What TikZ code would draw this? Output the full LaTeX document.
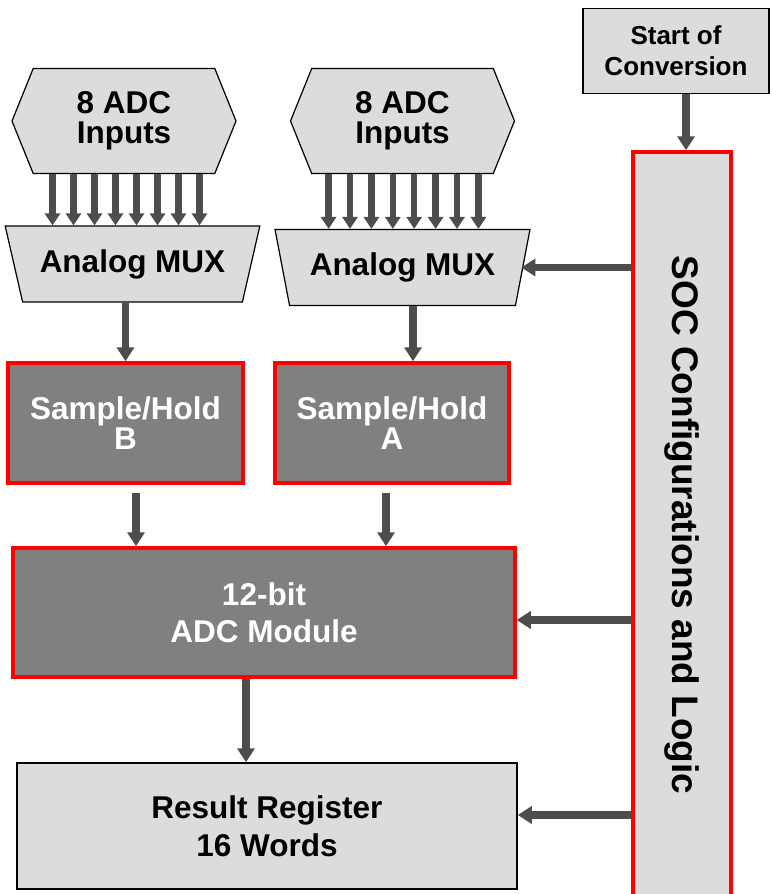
\documentclass[tikz,border=0pt]{standalone}
\usepackage{fontspec}
\setmainfont{Liberation Sans}
\usetikzlibrary {arrows.meta,
                 positioning,
                 shapes.geometric,
                 shapes.symbols}
\definecolor{boxgray}{HTML}{DCDCDC}
\definecolor{blockgray}{HTML}{808080}
\definecolor{arrowgray}{HTML}{4D4D4D}
\tikzset{
        base/.style={draw, align=center, inner sep=0pt,
                     font=\bfseries\fontsize{15.75}{15}\selectfont},
        lightbox/.style={base, fill=boxgray, line width=0.75pt},
        darkbox/.style={base, fill=blockgray, draw=red, line width=1.75pt,
                        text=white},
        inputs/.style={base, fill=boxgray, line width=0.6pt, signal,
                       signal to=west and east, signal pointer angle=136,
                       minimum width=112pt, minimum height=52.5pt},
        mux/.style={base, fill=boxgray, line width=0.6pt, trapezium,
                    trapezium stretches=true, minimum width=127.5pt,
                    minimum height=38pt},
        myarrow/.style={-{Triangle[length=7pt,width=8.5pt]}, line width=3.75pt,
                        draw=arrowgray},
        thinarrow/.style={-{Triangle[length=6pt,width=7.5pt]}, line width=3.25pt,
                          draw=arrowgray},
 }
\begin{document}
\begin{tikzpicture}[x=0.5pt, y=-0.5pt]
    \useasboundingbox (0,0) rectangle (771,894);

    \node[inputs] (in1) at (124,121) {8 ADC\\Inputs};
    \node[inputs] (in2) at (402.5,121) {8 ADC\\Inputs};
    \node[mux, trapezium left angle=116.5, trapezium right angle=116.5]
        (mux1) at (132.5,264) {Analog MUX};
    \node[mux, trapezium left angle=112, trapezium right angle=112]
        (mux2) at (402.5,267.5) {Analog MUX};
    \node[darkbox, minimum width=117.5pt, minimum height=60pt]
        (shb) at (125.5,423) {Sample/Hold\\B};
    \node[darkbox, minimum width=117pt, minimum height=60pt]
        (sha) at (392,423) {Sample/Hold\\A};
    \node[darkbox, minimum width=251pt, minimum height=64.5pt,
          font=\bfseries\fontsize{15.75}{18.5}\selectfont]
        (adc) at (264,612.5) {12-bit\\ADC Module};
    \node[lightbox, minimum width=250pt, minimum height=63pt,
          font=\bfseries\fontsize{15.75}{19}\selectfont]
        (res) at (267,826) {Result Register\\16 Words};
    \node[lightbox, minimum width=93pt, minimum height=42.5pt,
          font=\bfseries\fontsize{13}{15.5}\selectfont]
        (soc) at (676,51) {Start of\\Conversion};
    \node[lightbox, draw=red, line width=1.75pt, rotate=-90,
          minimum width=373pt, minimum height=49pt,
          font=\bfseries\fontsize{18.5}{18}\selectfont]
        (ctrl) at (682,525) {SOC Configurations and Logic};

    % eight inputs into each MUX
    \foreach \i in {0,...,7} {
        \draw[thinarrow] ([xshift=(\i-3.5)*10.5pt+1pt]in1.south)
            -- ([xshift=(\i-3.5)*10.5pt+1pt]in1.south |- mux1.north);
        \draw[thinarrow] ([xshift=(\i-3.5)*10.7pt+0.5pt]in2.south)
            -- ([xshift=(\i-3.5)*10.7pt+0.5pt]in2.south |- mux2.north);
    }

    \draw[myarrow] (shb.north |- mux1.south) -- (shb.north);
    \draw[myarrow] ([xshift=10.5pt]sha.north |- mux2.south) -- ([xshift=10.5pt]sha.north);
    \draw[myarrow] ([xshift=5.25pt,yshift=-4pt]shb.south)
        -- ([xshift=5.25pt]shb.south |- adc.north);
    \draw[myarrow] ([xshift=-3pt,yshift=-4pt]sha.south)
        -- ([xshift=-3pt]sha.south |- adc.north);
    \draw[myarrow] ([xshift=-9pt]adc.south) -- ([xshift=-9pt]adc.south |- res.north);

    \draw[myarrow] ([xshift=5pt]soc.south) -- ([xshift=5pt]soc.south |- ctrl.west);
    \draw[myarrow] (ctrl.south |- mux2.east) -- ([xshift=-1pt]mux2.east);
    \draw[myarrow] ([yshift=-3.75pt]ctrl.south |- adc.east) -- ([yshift=-3.75pt]adc.east);
    \draw[myarrow] ([yshift=5.5pt]ctrl.south |- res.east) -- ([yshift=5.5pt]res.east);
\end{tikzpicture}
\end{document}
